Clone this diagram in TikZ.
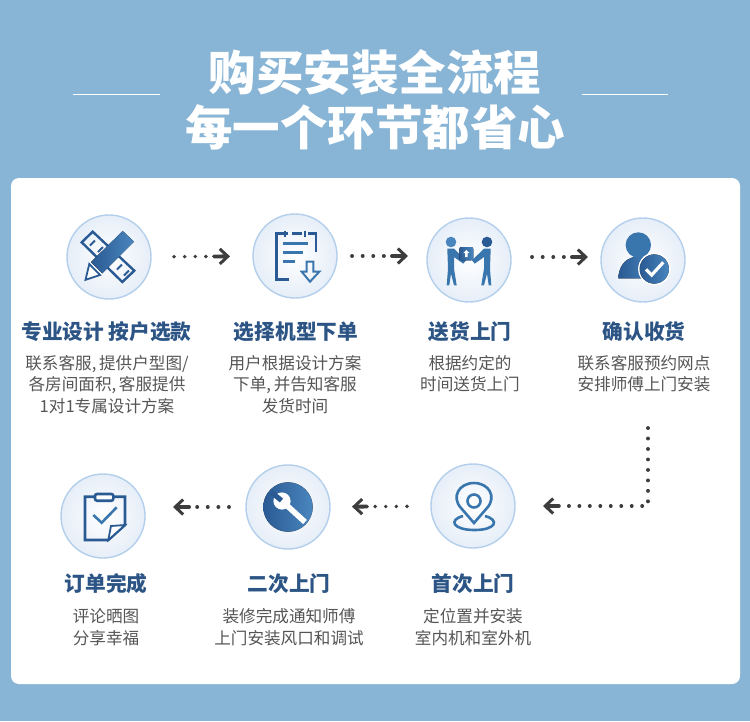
\documentclass[tikz,border=0pt]{standalone}
\usepackage{fontspec}
\setmainfont{Noto Sans CJK SC}
\usetikzlibrary{arrows.meta}
\definecolor{pagebg}{HTML}{88B5D6}
\definecolor{ringblue}{HTML}{B4CFEC}
\definecolor{ballblue}{HTML}{E6EEF8}
\definecolor{icondark}{HTML}{2A5A93}
\definecolor{iconlight}{HTML}{4A86BE}
\definecolor{pinblue}{HTML}{3A76AE}
\definecolor{titleblue}{HTML}{2C5585}
\definecolor{bodygray}{HTML}{555555}
\definecolor{linkgray}{HTML}{3D3D3D}
\tikzset{
  stepball/.style={circle,minimum size=84pt,inner sep=0pt,draw=ringblue,line width=1.4pt,inner color=white,outer color=ballblue},
  steptitle/.style={text=titleblue,font=\bfseries\fontsize{20.7}{24}\selectfont,inner sep=0pt},
  stepbody/.style={text=bodygray,align=center,font=\fontsize{16.6}{21.6}\selectfont,inner sep=0pt},
  headline/.style={text=white,font=\bfseries\fontsize{47.5}{55}\selectfont,inner sep=0pt},
  rule/.style={draw=white,line width=0.8pt},
  iconfill/.style={left color=icondark,right color=iconlight,draw=none},
  iconline/.style={draw=icondark,line width=2.6pt,line join=miter},
  linktip/.style={-{Straight Barb[length=8pt,width=15pt,line width=3pt]},draw=linkgray,line width=3.8pt,line cap=round},
  dotlink/.style={linktip,dash pattern=on 0.1pt off 10.5pt on 0.1pt off 10.5pt on 0.1pt off 10.5pt on 0.1pt off 8pt on 30pt off 200pt},
  longlink/.style={linktip,dash pattern=on 0.1pt off 10.37pt on 0.1pt off 10.37pt on 0.1pt off 10.37pt on 0.1pt off 10.37pt on 0.1pt off 10.37pt on 0.1pt off 10.37pt on 0.1pt off 10.37pt on 0.1pt off 10.37pt on 0.1pt off 10.37pt on 0.1pt off 10.37pt on 0.1pt off 10.37pt on 0.1pt off 10.37pt on 0.1pt off 10.37pt on 0.1pt off 10.37pt on 0.1pt off 10.37pt on 0.1pt off 10pt on 30pt off 200pt},
}
\begin{document}
\begin{tikzpicture}[x=1pt,y=-1pt]
  \useasboundingbox (0,0) rectangle (750,721);
  \fill[pagebg] (0,0) rectangle (750,721);
  \fill[white,rounded corners=8pt] (11,178) rectangle (740,684);

  % title
  \node [headline] (head1) at (375,72){购买安装全流程};
  \node [headline] (head2) at (375,127){每一个环节都省心};
  \draw [rule] (73,94) -- (160,94);
  \draw [rule] (582,94) -- (668,94);

  % balls
  \node [stepball] (design) at (109,257){};
  \node [stepball] (order) at (295,256){};
  \node [stepball] (deliver) at (469,260){};
  \node [stepball] (confirm) at (643,260){};
  \node [stepball] (first) at (473,506){};
  \node [stepball] (second) at (288,507){};
  \node [stepball] (finish) at (103,516){};
  \foreach \ball in {design,order,deliver,confirm,first,second,finish}{
    \draw [white,line width=2.2pt] (\ball.35) arc[start angle=-35,delta angle=75,radius=42.7pt];
  }

  % pencil and ruler
  \begin{scope}[shift={(design)}]
    \draw [iconline,line width=2.4pt] (-27.3,-14.7) -- (-16.3,-25.3) -- (25.3,13.7) -- (13.3,25) -- cycle;
    \draw [iconline,line width=1.8pt] (-19,-11.5) -- (-14,-16.5) (-11,-5) -- (-6,-10) (8,12.5) -- (13,7.5) (15,18.5) -- (20,13.5);
    \fill [iconfill] (13.7,-26) -- (25,-15.3) -- (-6.7,16.3) -- (-18,5) -- cycle;
    \draw [iconline,fill=white,line width=1.8pt] (-19.7,7) -- (-9,18) -- (-23.5,22.8) -- cycle;
  \end{scope}

  % sheet with arrow
  \begin{scope}[shift={(order)}]
    \draw [iconline] (-6.7,-22.7) -- (-18.3,-22.7) -- (-18.3,23.3) -- (-5.7,23.3);
    \draw [iconline] (-3,-22.7) -- (6.7,-22.7);
    \draw [iconline] (-10,-25.3) -- (-10,-19.3) (10,-25.3) -- (10,-19.3);
    \draw [iconline] (13.3,-22.7) -- (21,-22.7) -- (21,-4.3);
    \draw [iconline,draw=pinblue] (-11.7,-12.7) -- (13.3,-12.7) (-11.7,-3.3) -- (8.3,-3.3) (-11.7,5.7) -- (0,5.7);
    \draw [iconline,draw=pinblue,line width=2pt] (11.7,5.7) -- (18.3,5.7) -- (18.3,15.7) -- (24.3,15.7) -- (15,25.7) -- (6.7,15.7) -- (11.7,15.7) -- cycle;
  \end{scope}

  % two carriers
  \begin{scope}[shift={(deliver)}]
    \foreach \flip/\tone in {1/iconlight,-1/icondark}{
      \begin{scope}[xscale=\flip]
        \fill [\tone] (-18,-18) circle (5.3pt);
        \fill [pinblue] (-21.7,-11.3) -- (-15,-11.3) -- (-3,0.3) -- (-5.7,3.7) -- (-15,-3) -- (-15,8.7) -- (-12.3,25.3) -- (-15,25.3) -- (-18,13.7) -- (-19.7,25.3) -- (-22.3,25.3) -- (-21,8.7) -- cycle;
      \end{scope}
    }
    \fill [iconfill,rounded corners=2pt] (-9.7,-13) rectangle (4.3,0.3);
    \fill [white] (-2.7,-10) -- (0.3,-7) -- (-1.5,-7) -- (-1.5,-3) -- (-3.9,-3) -- (-3.9,-7) -- (-5.7,-7) -- cycle;
  \end{scope}

  % customer with check
  \begin{scope}[shift={(confirm)}]
    \fill [pinblue] (-4.7,-15) circle (12.7pt);
    \fill [iconfill] (-24.7,18.3) .. controls (-24,6) and (-18,-1) .. (-9,-3) -- (3,-3) .. controls (8,-1) and (10,3) .. (12,18.3) -- cycle;
    \fill [white] (11.3,9) circle (16.2pt);
    \fill [iconfill] (11.3,9) circle (14.6pt);
    \draw [white,line width=3.2pt] (3,9.3) -- (8.7,15) -- (20.3,2.3);
  \end{scope}

  % map pin
  \begin{scope}[shift={(first)}]
    \draw [iconline,draw=pinblue] (1,17) -- (-12,2) .. controls (-22,-9) and (-14,-23) .. (1,-23) .. controls (16,-23) and (24,-9) .. (14,2) -- cycle;
    \draw [iconline,draw=pinblue] (1,-5) circle (6.5pt);
    \draw [iconline,draw=pinblue] (-10,10) .. controls (-25,14) and (-20,24) .. (1.5,24) .. controls (23,24) and (27,14) .. (12,10);
  \end{scope}

  % wrench
  \begin{scope}[shift={(second)}]
    \fill [iconfill] (0,0) circle (24.7pt);
    \fill [white] (-6,-6) circle (8.6pt);
    \draw [white,line width=5.6pt] (-6,-6) -- (17,15);
    \draw [icondark,line width=5pt] (-6.5,-6.5) -- (-17,-15);
  \end{scope}

  % clipboard
  \begin{scope}[shift={(finish)}]
    \draw [iconline] (5.3,24) -- (-18,24) -- (-18,-19.3) -- (22,-19.3) -- (22,9) -- cycle;
    \draw [iconline,fill=white,rounded corners=2pt] (-8,-22) rectangle (10.3,-15.3);
    \draw [iconline,draw=pinblue] (-9.7,-1) -- (-1.3,6.7) -- (13.7,-8.7);
    \draw [iconline,line width=1.8pt,fill=white] (5.3,24) -- (8,10) -- (22,9) -- cycle;
  \end{scope}

  % captions
  \node [steptitle] (designhead) at (106.5,332){专业设计 按户选款};
  \node [stepbody] (designtext) at (107,384.5){联系客服,\,提供户型图/\\各房间面积,\,客服提供\\1对1专属设计方案};
  \node [steptitle] (orderhead) at (296,332){选择机型下单};
  \node [stepbody] (ordertext) at (295,384.5){用户根据设计方案\\下单,\,并告知客服\\发货时间};
  \node [steptitle] (deliverhead) at (470,332){送货上门};
  \node [stepbody] (delivertext) at (470,373.5){根据约定的\\时间送货上门};
  \node [steptitle] (confirmhead) at (644,332){确认收货};
  \node [stepbody] (confirmtext) at (644,373.5){联系客服预约网点\\安排师傅上门安装};
  \node [steptitle] (firsthead) at (473,584){首次上门};
  \node [stepbody] (firsttext) at (473,627){定位置并安装\\室内机和室外机};
  \node [steptitle] (secondhead) at (289,584){二次上门};
  \node [stepbody] (secondtext) at (289,627){装修完成通知师傅\\上门安装风口和调试};
  \node [steptitle] (finishhead) at (106,584){订单完成};
  \node [stepbody] (finishtext) at (106,627){评论晒图\\分享幸福};

  % links
  \draw [dotlink,shorten <=22.3pt,shorten >=22.3pt] (design) -- (order);
  \draw [dotlink,shorten <=14.3pt,shorten >=61pt] (order) -- (deliver |- order);
  \draw [dotlink,shorten <=63pt,shorten >=55pt] ([yshift=3pt]deliver.center) -- ([yshift=3pt]confirm.center);
  \coordinate (turn) at (648,428);
  \draw [longlink,shorten >=27.3pt] (turn) |- (first);
  \draw [dotlink,shorten <=23.3pt,shorten >=21.3pt] (first) -- (second);
  \draw [dotlink,shorten <=16.3pt,shorten >=70pt] (second) -- (finish |- second);
\end{tikzpicture}
\end{document}
